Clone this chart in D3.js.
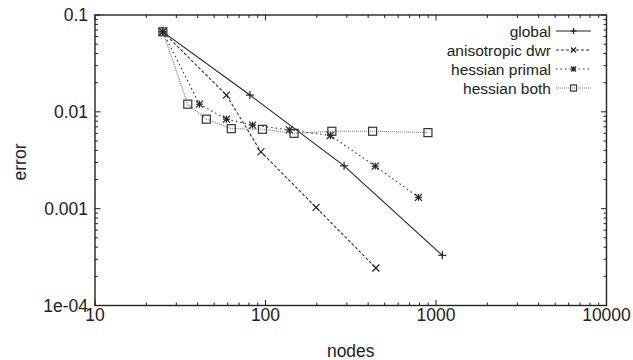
<!DOCTYPE html>
<html><head><meta charset="utf-8">
<script src="https://cdn.jsdelivr.net/npm/d3@7"></script>
<style>body{margin:0;background:#fff}svg{display:block}text{font-family:"Liberation Sans",Arial,sans-serif;fill:#222}</style>
</head><body><svg id="c" width="633" height="360"></svg>
<script>
const seriesNames = ["global","anisotropic dwr","hessian primal","hessian both"];
const globalNodes = [25, 81, 289, 1089];
const globalErr   = [0.067, 0.0149, 0.00277, 0.00033];
const anisoNodes  = [25, 59, 94, 198, 444];
const anisoErr    = [0.067, 0.0149, 0.00386, 0.00103, 0.000244];
const primalNodes = [25, 41, 59, 84, 138, 240, 440, 789];
const primalErr   = [0.067, 0.0120, 0.0084, 0.0073, 0.0065, 0.0057, 0.00275, 0.00131];
const bothNodes   = [25, 35, 45, 63, 96, 147, 245, 425, 897];
const bothErr     = [0.067, 0.0120, 0.0084, 0.0067, 0.0066, 0.0060, 0.0063, 0.0063, 0.0061];
const xTicks = [10, 100, 1000, 10000];
const xTickLabels = ["10","100","1000","10000"];
const yTicks = [1e-4, 1e-3, 1e-2, 1e-1];
const yTickLabels = ["1e-04","0.001","0.01","0.1"];

const svg = d3.select("#c");
const L = 95, R = 606.5, T = 15, B = 305.5;
const x = d3.scaleLog().domain([10, 10000]).range([L, R]);
const y = d3.scaleLog().domain([1e-4, 0.1]).range([B, T]);
const ink = "#222";

const minorX = [], minorY = [];
for (let d = 10; d < 10000; d *= 10) for (let k = 2; k <= 9; k++) minorX.push(d * k);
for (let d = 1e-4; d < 0.099; d *= 10) for (let k = 2; k <= 9; k++) minorY.push(d * k);

const g = svg.append("g");
function tickSet(vals, len, isX) {
  vals.forEach(v => {
    if (isX) {
      const px = x(v);
      g.append("line").attr("x1", px).attr("x2", px).attr("y1", B).attr("y2", B - len).attr("stroke", ink).attr("stroke-width", 1);
      g.append("line").attr("x1", px).attr("x2", px).attr("y1", T).attr("y2", T + len).attr("stroke", ink).attr("stroke-width", 1);
    } else {
      const py = y(v);
      g.append("line").attr("y1", py).attr("y2", py).attr("x1", L).attr("x2", L + len).attr("stroke", ink).attr("stroke-width", 1);
      g.append("line").attr("y1", py).attr("y2", py).attr("x1", R).attr("x2", R - len).attr("stroke", ink).attr("stroke-width", 1);
    }
  });
}
tickSet(minorX, 3, true);
tickSet(xTicks, 5.5, true);
tickSet(minorY, 3, false);
tickSet(yTicks, 5.5, false);

g.append("rect").attr("x", L).attr("y", T).attr("width", R - L).attr("height", B - T)
  .attr("fill", "none").attr("stroke", ink).attr("stroke-width", 1.4);

xTicks.forEach((v, i) => {
  g.append("text").attr("x", x(v)).attr("y", 321).attr("text-anchor", "middle")
    .attr("font-size", 17.5).text(xTickLabels[i]);
});
yTicks.forEach((v, i) => {
  g.append("text").attr("x", 88).attr("y", y(v) + 6).attr("text-anchor", "end")
    .attr("font-size", 17.5).text(yTickLabels[i]);
});
svg.append("text").attr("x", (L + R) / 2).attr("y", 357).attr("text-anchor", "middle")
  .attr("font-size", 17.5).text("nodes");
svg.append("text").attr("transform", "translate(26,162) rotate(-90)").attr("text-anchor", "middle")
  .attr("font-size", 17.5).text("error");

function marker(sel, type, cx, cy, s, color) {
  const h = s / 2;
  const st = {stroke: color, "stroke-width": 1.2, fill: "none"};
  const ln = (x1, y1, x2, y2) => { const l = sel.append("line").attr("x1", x1).attr("y1", y1).attr("x2", x2).attr("y2", y2); Object.entries(st).forEach(([k, v]) => l.attr(k, v)); };
  if (type === "plus") { ln(cx - h, cy, cx + h, cy); ln(cx, cy - h, cx, cy + h); }
  else if (type === "cross") { ln(cx - h, cy - h, cx + h, cy + h); ln(cx - h, cy + h, cx + h, cy - h); }
  else if (type === "star") { ln(cx - h, cy, cx + h, cy); ln(cx, cy - h, cx, cy + h); ln(cx - h, cy - h, cx + h, cy + h); ln(cx - h, cy + h, cx + h, cy - h); }
  else if (type === "square") { const r = sel.append("rect").attr("x", cx - h).attr("y", cy - h).attr("width", s).attr("height", s); Object.entries(st).forEach(([k, v]) => r.attr(k, v)); }
}

const series = [
  {name: seriesNames[0], xs: globalNodes, ys: globalErr, dash: null, color: "#222", m: "plus", ms: 8},
  {name: seriesNames[1], xs: anisoNodes, ys: anisoErr, dash: "3,2", color: "#333", m: "cross", ms: 7},
  {name: seriesNames[2], xs: primalNodes, ys: primalErr, dash: "1.5,3", color: "#333", m: "star", ms: 7},
  {name: seriesNames[3], xs: bothNodes, ys: bothErr, dash: "1,1", color: "#777", m: "square", ms: 8}
];
const line = d3.line().x(d => x(d[0])).y(d => y(d[1]));
series.forEach(s => {
  const pts = s.xs.map((v, i) => [v, s.ys[i]]);
  g.append("path").attr("d", line(pts)).attr("fill", "none").attr("stroke", s.color)
    .attr("stroke-width", 1.1).attr("stroke-dasharray", s.dash);
});
series.forEach(s => {
  const mc = s.m === "square" ? "#333" : "#222";
  s.xs.forEach((v, i) => marker(g, s.m, x(v), y(s.ys[i]), s.ms, mc));
});

const legY = [31, 50, 69, 88];
series.forEach((s, i) => {
  svg.append("text").attr("x", 551).attr("y", legY[i] + 5.5).attr("text-anchor", "end")
    .attr("font-size", 15.5).text(s.name);
  svg.append("line").attr("x1", 556).attr("x2", 591).attr("y1", legY[i]).attr("y2", legY[i])
    .attr("stroke", s.color).attr("stroke-width", 1.1).attr("stroke-dasharray", s.dash);
  marker(svg, s.m, 573.5, legY[i], s.ms - 2, s.m === "square" ? "#333" : "#222");
});
</script></body></html>
